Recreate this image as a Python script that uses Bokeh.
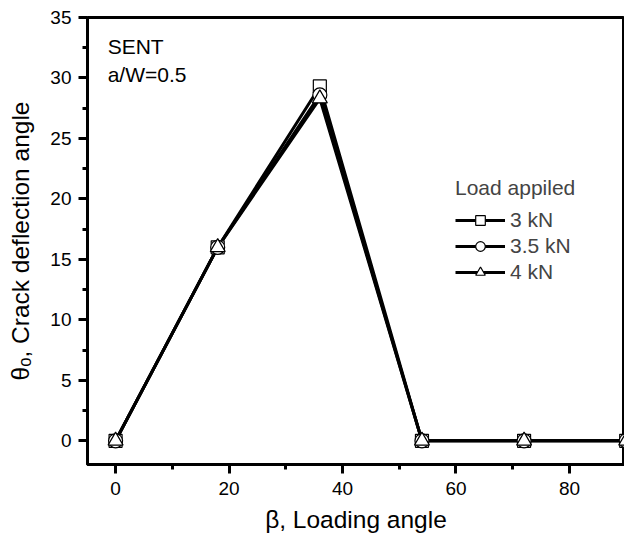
from bokeh.plotting import figure
from bokeh.models import Range1d, FixedTicker, Label, Legend, LegendItem
from bokeh.embed import file_html
from bokeh.resources import INLINE

# Data
beta = [0, 18, 36, 54, 72, 90]
theta_3kN = [0, 16, 29.3, 0, 0, 0]
theta_35kN = [0, 16, 28.6, 0, 0, 0]
theta_4kN = [0, 16, 28.3, 0, 0, 0]
series_labels = ["3 kN", "3.5 kN", "4 kN"]
x_ticks = [0, 20, 40, 60, 80]
x_minor = [10, 30, 50, 70, 90]
y_ticks = [0, 5, 10, 15, 20, 25, 30, 35]
y_minor = [2.5, 7.5, 12.5, 17.5, 22.5, 27.5, 32.5]

FONT = "Liberation Sans"

p = figure(width=624, height=535, output_backend="svg", toolbar_location=None,
           x_range=Range1d(-4.95, 89.7), y_range=Range1d(-1.96, 35),
           min_border_left=87, min_border_top=17, min_border_right=0, min_border_bottom=65)

p.background_fill_color = "white"
p.border_fill_color = "white"
p.outline_line_color = "black"
p.outline_line_width = 3
p.grid.visible = False

for ax, ticks, minor in ((p.xaxis[0], x_ticks, x_minor), (p.yaxis[0], y_ticks, y_minor)):
    ax.ticker = FixedTicker(ticks=ticks, minor_ticks=minor)
    ax.axis_line_width = 3
    ax.major_tick_line_width = 3
    ax.minor_tick_line_width = 3
    ax.major_tick_out = 9
    ax.major_tick_in = 0
    ax.minor_tick_out = 5
    ax.minor_tick_in = 0
    ax.major_label_text_font = FONT
    ax.major_label_text_font_size = "19px"
    ax.major_label_text_color = "black"
    ax.axis_label_text_font = FONT
    ax.axis_label_text_font_size = "24.5px"
    ax.axis_label_text_font_style = "normal"
    ax.axis_label_text_color = "black"

p.xaxis.axis_label = "β, Loading angle"
p.yaxis.axis_label = "θₒ, Crack deflection angle"
p.xaxis.major_label_standoff = 8
p.xaxis.axis_label_standoff = 8
p.yaxis.major_label_standoff = 7
p.yaxis.axis_label_standoff = 13

series = [theta_3kN, theta_35kN, theta_4kN]
markers = ["square", "circle", "triangle"]
sizes = [13, 14, 15]
lines = []
for ys in series:
    lines.append(p.line(beta, ys, line_color="black", line_width=3))
scats = []
for ys, mk, sz in zip(series, markers, sizes):
    scats.append(p.scatter(beta, ys, marker=mk, size=sz, fill_color="white",
                           line_color="black", line_width=1.2))
items = [LegendItem(label=lbl, renderers=[ln, sc])
         for lbl, ln, sc in zip(series_labels, lines, scats)]

legend = Legend(items=items, location=(368, 180), title="Load appiled",
                title_text_font=FONT, title_text_font_size="21px", title_text_font_style="normal",
                title_standoff=8,
                label_text_font=FONT, label_text_font_size="21px",
                glyph_width=50, glyph_height=24, spacing=2, padding=0, margin=0,
                label_standoff=5,
                border_line_color=None, background_fill_alpha=0)
p.add_layout(legend)

p.add_layout(Label(x=-1.4, y=32.6, text="SENT", text_font=FONT, text_font_size="21px",
                   text_color="black", text_baseline="alphabetic"))
p.add_layout(Label(x=-1.4, y=30.3, text="a/W=0.5", text_font=FONT, text_font_size="21px",
                   text_color="black", text_baseline="alphabetic"))

open("out.html", "w").write(file_html(p, INLINE))
